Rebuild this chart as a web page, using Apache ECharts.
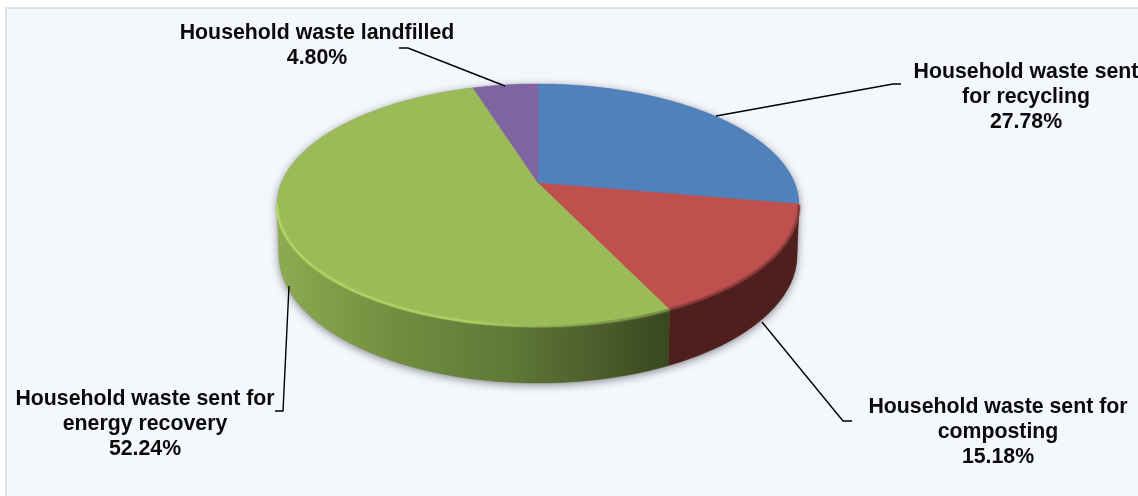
<!DOCTYPE html>
<html><head><meta charset="utf-8">
<style>html,body{margin:0;padding:0;background:#fff}#c{width:1138px;height:496px}</style>
<script src="https://cdn.jsdelivr.net/npm/echarts@6/dist/echarts.min.js"></script>
</head><body><div id="c"></div>
<script>
const categories = ['Household waste sent\nfor recycling','Household waste sent for\ncomposting','Household waste sent for\nenergy recovery','Household waste landfilled'];
const shares = [27.78, 15.18, 52.24, 4.80];
const topColors = ['#4f81bd','#c0504d','#9bbb59','#8064a2'];

// presentation geometry only
const TOP = {cx:538, apexY:183, k:-0.182, A:117, B:256.6, cy:205, rx:261, ry:121};
const LOW = {cy:255, rx:259, ry:128};
const FRONT = [100.5, 259.5];
const labelPos = [[1026,97],[998,432],[145,424],[317,46]];
const leaders = [
  [[716,116],[893,84],[901,84]],
  [[762,322],[843,421],[852,421]],
  [[289,286],[283,411],[275,411]],
  [[505,86],[408,48],[399,48]]
];
const sideFills = [
  '#2f4f7a',
  '#4e1f1d',
  {type:'linear',global:true,x:277,y:0,x2:668,y2:0,colorStops:[
    {offset:0,color:'#8dab50'},{offset:.3,color:'#718e40'},{offset:.6,color:'#5f7837'},{offset:.85,color:'#49592a'},{offset:1,color:'#39481f'}]},
  '#5a4674'
];

function project(deg){
  const t=deg*Math.PI/180, x=Math.sin(t), y=-Math.cos(t), w=1+TOP.k*y;
  return [TOP.cx+TOP.B*x/w, TOP.apexY+TOP.A*y/w];
}
function lower(p){
  const u=(p[0]-TOP.cx)/TOP.rx;
  return [TOP.cx+u*LOW.rx, LOW.cy+LOW.ry*Math.sqrt(Math.max(0,1-u*u))];
}
function arc(a,b){
  const pts=[], n=Math.max(2,Math.ceil(Math.abs(b-a)/1.5));
  for(let i=0;i<=n;i++) pts.push(project(a+(b-a)*i/n));
  return pts;
}
const total = shares.reduce((s,v)=>s+v,0);
function range(i){
  let s=0; for(let j=0;j<i;j++) s+=shares[j];
  return [s/total*360,(s+shares[i])/total*360];
}
const rows = shares.map((v,i)=>({name:categories[i],value:v}));

const option = {
  backgroundColor:'#ffffff',
  animation:false,
  graphic:[{type:'rect',z:-1,shape:{x:6,y:8,width:1140,height:500},style:{fill:'#f4f7fc',stroke:'#d9d9d9',lineWidth:1.5}}],
  series:[
    {type:'custom',coordinateSystem:'none',z:2,data:[total],silent:true,
     renderItem(){
       const full=arc(FRONT[0],FRONT[1]).map(lower);
       return {type:'polygon',shape:{points:arc(FRONT[1]-360,FRONT[0]).concat(full)},
         style:{fill:'#8a8f96',shadowBlur:9,shadowColor:'rgba(40,40,50,.55)',shadowOffsetY:2}};
     }},
    {type:'custom',coordinateSystem:'none',z:3,data:rows,silent:true,
     renderItem(p){
       const [s,e]=range(p.dataIndex), a=Math.max(s,FRONT[0]), b=Math.min(e,FRONT[1]);
       if(b<=a) return null;
       const t=arc(a,b);
       return {type:'polygon',shape:{points:t.concat(t.map(lower).reverse())},
         style:{fill:sideFills[p.dataIndex],stroke:sideFills[p.dataIndex],lineWidth:.5}};
     }},
    {type:'custom',coordinateSystem:'none',z:4,data:rows,silent:true,
     renderItem(p){
       const [s,e]=range(p.dataIndex);
       return {type:'polygon',shape:{points:[[TOP.cx,TOP.apexY]].concat(arc(s,e))},
         style:{fill:topColors[p.dataIndex],stroke:topColors[p.dataIndex],lineWidth:.5}};
     }},
    {type:'custom',coordinateSystem:'none',z:5,data:rows,silent:true,
     renderItem(p){
       const [s,e]=range(p.dataIndex), a=Math.max(s,FRONT[0]), b=Math.min(e,FRONT[1]);
       if(b<=a) return null;
       const isGreen=p.dataIndex===2;
       const stroke=isGreen?{type:'linear',global:true,x:277,y:0,x2:668,y2:0,colorStops:[
         {offset:0,color:'#b4d766'},{offset:.5,color:'#b0d264'},{offset:.62,color:'#9bbb59'},{offset:1,color:'#6f8a40'}]}:'#8a3c39';
       return {type:'polyline',shape:{points:arc(a,b)},
         style:{fill:null,stroke,lineWidth:2.5,opacity:.85,shadowBlur:2,shadowColor:isGreen?'rgba(170,205,95,.6)':'rgba(90,40,40,.6)'}};
     }},
    {type:'custom',coordinateSystem:'none',z:6,data:rows,silent:true,
     renderItem(p){
       return {type:'polyline',shape:{points:leaders[p.dataIndex]},style:{fill:null,stroke:'#000',lineWidth:1.4}};
     }},
    {type:'custom',coordinateSystem:'none',z:7,data:rows,silent:true,
     renderItem(p){
       const i=p.dataIndex;
       return {type:'text',style:{text:categories[i]+'\n'+shares[i].toFixed(2)+'%',x:labelPos[i][0],y:labelPos[i][1],
         align:'center',verticalAlign:'middle',fill:'#0a0a0a',font:'bold 21.3px "Liberation Sans"',lineHeight:24.8}};
     }}
  ]
};
const chart=echarts.init(document.getElementById('c'),null,{renderer:'canvas'});
chart.setOption(option);
</script></body></html>
